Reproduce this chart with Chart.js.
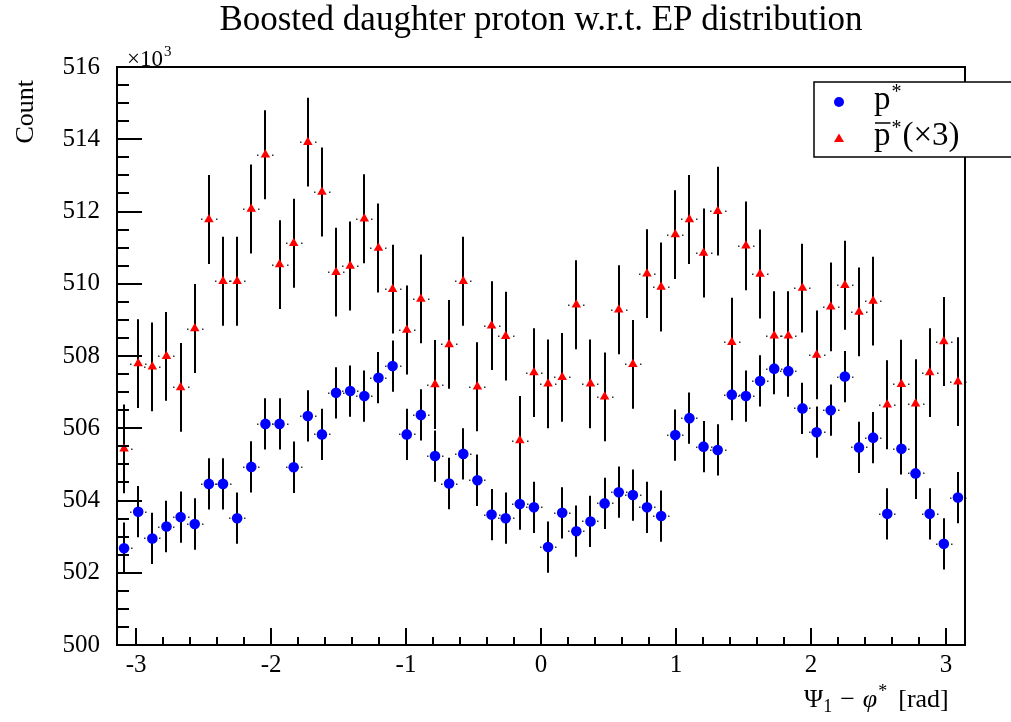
<!DOCTYPE html>
<html>
<head>
<meta charset="utf-8">
<script src="https://cdn.jsdelivr.net/npm/chart.js@4.4.1/dist/chart.umd.min.js"></script>
<style>
  html, body { margin: 0; padding: 0; background: #fff; }
  #wrap { width: 1011px; height: 722px; }
</style>
</head>
<body>
<div id="wrap"><canvas id="histChart" width="1011" height="722"></canvas></div>
<script>
// histogram binning: 60 bins over [-pi, pi]
const nBins = 60;
const xLow = -Math.PI;
const xHigh = Math.PI;

// p* counts per bin (x10^3)
const pStar = [
  502.68, 503.69, 502.95, 503.28, 503.54, 503.35, 504.46, 504.46, 503.51, 504.93,
  506.12, 506.12, 504.92, 506.34, 505.83, 506.98, 507.03, 506.89, 507.40, 507.72,
  505.83, 506.37, 505.23, 504.47, 505.29, 504.56, 503.61, 503.51, 503.90, 503.81,
  502.71, 503.66, 503.15, 503.42, 503.92, 504.23, 504.15, 503.81, 503.57, 505.81,
  506.28, 505.49, 505.40, 506.93, 506.89, 507.31, 507.65, 507.58, 506.55, 505.89,
  506.50, 507.43, 505.47, 505.74, 503.63, 505.43, 504.75, 503.63, 502.80, 504.08
];
// anti-p* counts per bin, scaled x3 (x10^3)
const pBarStar = [
  505.43, 507.79, 507.70, 507.99, 507.13, 508.76, 511.78, 510.07, 510.07, 512.07,
  513.57, 510.53, 511.12, 513.92, 512.54, 510.32, 510.49, 511.80, 510.99, 509.85,
  508.72, 509.58, 507.21, 508.32, 510.07, 507.15, 508.84, 508.55, 505.66, 507.54,
  507.23, 507.41, 509.42, 507.23, 506.87, 509.28, 507.77, 510.28, 509.91, 511.36,
  511.78, 510.85, 512.01, 508.38, 511.05, 510.27, 508.56, 508.56, 509.88, 508.03,
  509.36, 509.96, 509.22, 509.52, 506.65, 507.22, 506.68, 507.54, 508.40, 507.29
];
// statistical error bar half-heights (x10^3)
const pStarErr = 0.71;
const pBarStarErr = 1.23;

const xTicks = [-3, -2, -1, 0, 1, 2, 3];
const yTicks = [500, 502, 504, 506, 508, 510, 512, 514, 516];

const serif = '"Liberation Serif", "DejaVu Serif", serif';
const binWidth = (xHigh - xLow) / nBins;
const binCenters = pStar.map((_, i) => xLow + (i + 0.5) * binWidth);
const toPoints = vals => vals.map((v, i) => ({ x: binCenters[i], y: v }));

// ROOT-like frame, inner ticks, error bars, titles and legend
const rootStyle = {
  id: 'rootStyle',
  beforeDatasetsDraw(chart) {
    const { ctx, scales: { x, y } } = chart;
    ctx.save();
    [[pStar, pStarErr], [pBarStar, pBarStarErr]].forEach(([vals, err]) => {
      vals.forEach((v, i) => {
        const px = Math.round(x.getPixelForValue(binCenters[i]));
        const py = y.getPixelForValue(v);
        ctx.strokeStyle = '#000';
        ctx.lineWidth = 2;
        ctx.beginPath();
        ctx.moveTo(px, y.getPixelForValue(v - err));
        ctx.lineTo(px, y.getPixelForValue(v + err));
        ctx.stroke();
        // tiny x-error stubs
        ctx.fillStyle = '#333';
        ctx.fillRect(px - 8, Math.round(py) - 0.5, 1.5, 1.5);
        ctx.fillRect(px + 7, Math.round(py) - 0.5, 1.5, 1.5);
      });
    });
    ctx.restore();
  },
  afterDraw(chart) {
    const { ctx, chartArea: a, scales: { x, y } } = chart;
    ctx.save();
    ctx.strokeStyle = '#000';
    ctx.lineWidth = 2;

    // ticks on the left axis
    for (let k = 0; k <= 32; k++) {
      const v = 500 + k * 0.5;
      const py = Math.round(y.getPixelForValue(v));
      const len = (k % 4 === 0) ? 25 : 12;
      ctx.beginPath();
      ctx.moveTo(a.left, py);
      ctx.lineTo(a.left + len, py);
      ctx.stroke();
    }
    // ticks on the bottom axis
    for (let k = -15; k <= 15; k++) {
      const v = k * 0.2;
      if (v < xLow || v > xHigh) continue;
      const px = Math.round(x.getPixelForValue(v));
      const len = (k % 5 === 0) ? 17 : 8;
      ctx.beginPath();
      ctx.moveTo(px, a.bottom);
      ctx.lineTo(px, a.bottom - len);
      ctx.stroke();
    }
    ctx.strokeRect(a.left, a.top, a.right - a.left, a.bottom - a.top);

    ctx.fillStyle = '#000';
    // title
    ctx.font = '35px ' + serif;
    ctx.textAlign = 'center';
    ctx.textBaseline = 'alphabetic';
    ctx.fillText('Boosted daughter proton w.r.t. EP distribution', 541, 30);

    // exponent label
    ctx.textAlign = 'left';
    ctx.font = '23px ' + serif;
    ctx.fillText('\u00d710', 127, 66);
    const ew = ctx.measureText('\u00d710').width;
    ctx.font = '15px ' + serif;
    ctx.fillText('3', 127 + ew + 1, 56);

    // y title
    ctx.save();
    ctx.translate(33, 80);
    ctx.rotate(-Math.PI / 2);
    ctx.font = '26px ' + serif;
    ctx.textAlign = 'right';
    ctx.fillText('Count', 0, 0);
    ctx.restore();

    // x title: Psi_1 - phi* [rad]
    ctx.textAlign = 'left';
    let cx = 804;
    const base = 707;
    ctx.font = '26px ' + serif;
    ctx.fillText('\u03a8', cx, base); cx += ctx.measureText('\u03a8').width;
    ctx.font = '18px ' + serif;
    ctx.fillText('1', cx, base + 5); cx += ctx.measureText('1').width + 8;
    ctx.font = '26px ' + serif;
    ctx.fillText('\u2212', cx, base); cx += ctx.measureText('\u2212').width + 8;
    ctx.font = 'italic 26px ' + serif;
    ctx.fillText('\u03c6', cx, base); cx += ctx.measureText('\u03c6').width;
    ctx.font = '18px ' + serif;
    ctx.fillText('*', cx + 1, base - 10); cx += ctx.measureText('*').width + 12;
    ctx.font = '26px ' + serif;
    ctx.fillText('[rad]', cx, base);

    // legend box
    ctx.fillStyle = '#fff';
    ctx.fillRect(814, 82, 210, 75);
    ctx.lineWidth = 1.5;
    ctx.strokeRect(814, 82, 210, 75);
    ctx.fillStyle = '#0000ff';
    ctx.beginPath();
    ctx.arc(839, 102, 5, 0, Math.PI * 2);
    ctx.fill();
    ctx.fillStyle = '#ff0000';
    ctx.beginPath();
    ctx.moveTo(839, 133.5);
    ctx.lineTo(844, 142);
    ctx.lineTo(834, 142);
    ctx.closePath();
    ctx.fill();

    ctx.fillStyle = '#000';
    ctx.font = '33px ' + serif;
    ctx.fillText('p', 874, 109);
    let w = ctx.measureText('p').width;
    ctx.font = '20px ' + serif;
    ctx.fillText('*', 874 + w + 1, 98);

    ctx.font = '33px ' + serif;
    ctx.fillText('p', 874, 145);
    ctx.lineWidth = 1.5;
    ctx.beginPath();
    ctx.moveTo(875, 123);
    ctx.lineTo(874 + w, 123);
    ctx.stroke();
    ctx.font = '20px ' + serif;
    ctx.fillText('*', 874 + w + 1, 134);
    ctx.font = '33px ' + serif;
    ctx.fillText('(\u00d73)', 874 + w + 12, 145);

    ctx.restore();
  }
};

const ctx = document.getElementById('histChart');
new Chart(ctx, {
  type: 'scatter',
  data: {
    datasets: [
      {
        label: 'p*',
        data: toPoints(pStar),
        pointStyle: 'circle',
        pointRadius: 5.3,
        pointBackgroundColor: '#0000ff',
        pointBorderWidth: 0
      },
      {
        label: 'pbar*(x3)',
        data: toPoints(pBarStar),
        pointStyle: 'triangle',
        pointRadius: 5.5,
        pointBackgroundColor: '#ff0000',
        pointBorderWidth: 0
      }
    ]
  },
  options: {
    responsive: false,
    animation: false,
    layout: { padding: { left: 0, right: 46, top: 67, bottom: 0 } },
    plugins: {
      legend: { display: false },
      title: { display: false },
      tooltip: { enabled: false }
    },
    scales: {
      x: {
        type: 'linear',
        min: xLow,
        max: xHigh,
        grid: { display: false, drawTicks: false },
        border: { display: false },
        afterFit: s => { s.height = 77; },
        afterBuildTicks: s => { s.ticks = xTicks.map(v => ({ value: v })); },
        ticks: {
          padding: 5,
          color: '#000',
          font: { family: serif, size: 25 },
          maxRotation: 0,
          callback: v => String(v)
        }
      },
      y: {
        type: 'linear',
        min: 500,
        max: 516,
        grid: { display: false, drawTicks: false },
        border: { display: false },
        afterFit: s => { s.width = 117; },
        afterBuildTicks: s => { s.ticks = yTicks.map(v => ({ value: v })); },
        ticks: {
          padding: 17,
          color: '#000',
          font: { family: serif, size: 25 },
          callback: v => String(v)
        }
      }
    }
  },
  plugins: [rootStyle]
});
</script>
</body>
</html>
